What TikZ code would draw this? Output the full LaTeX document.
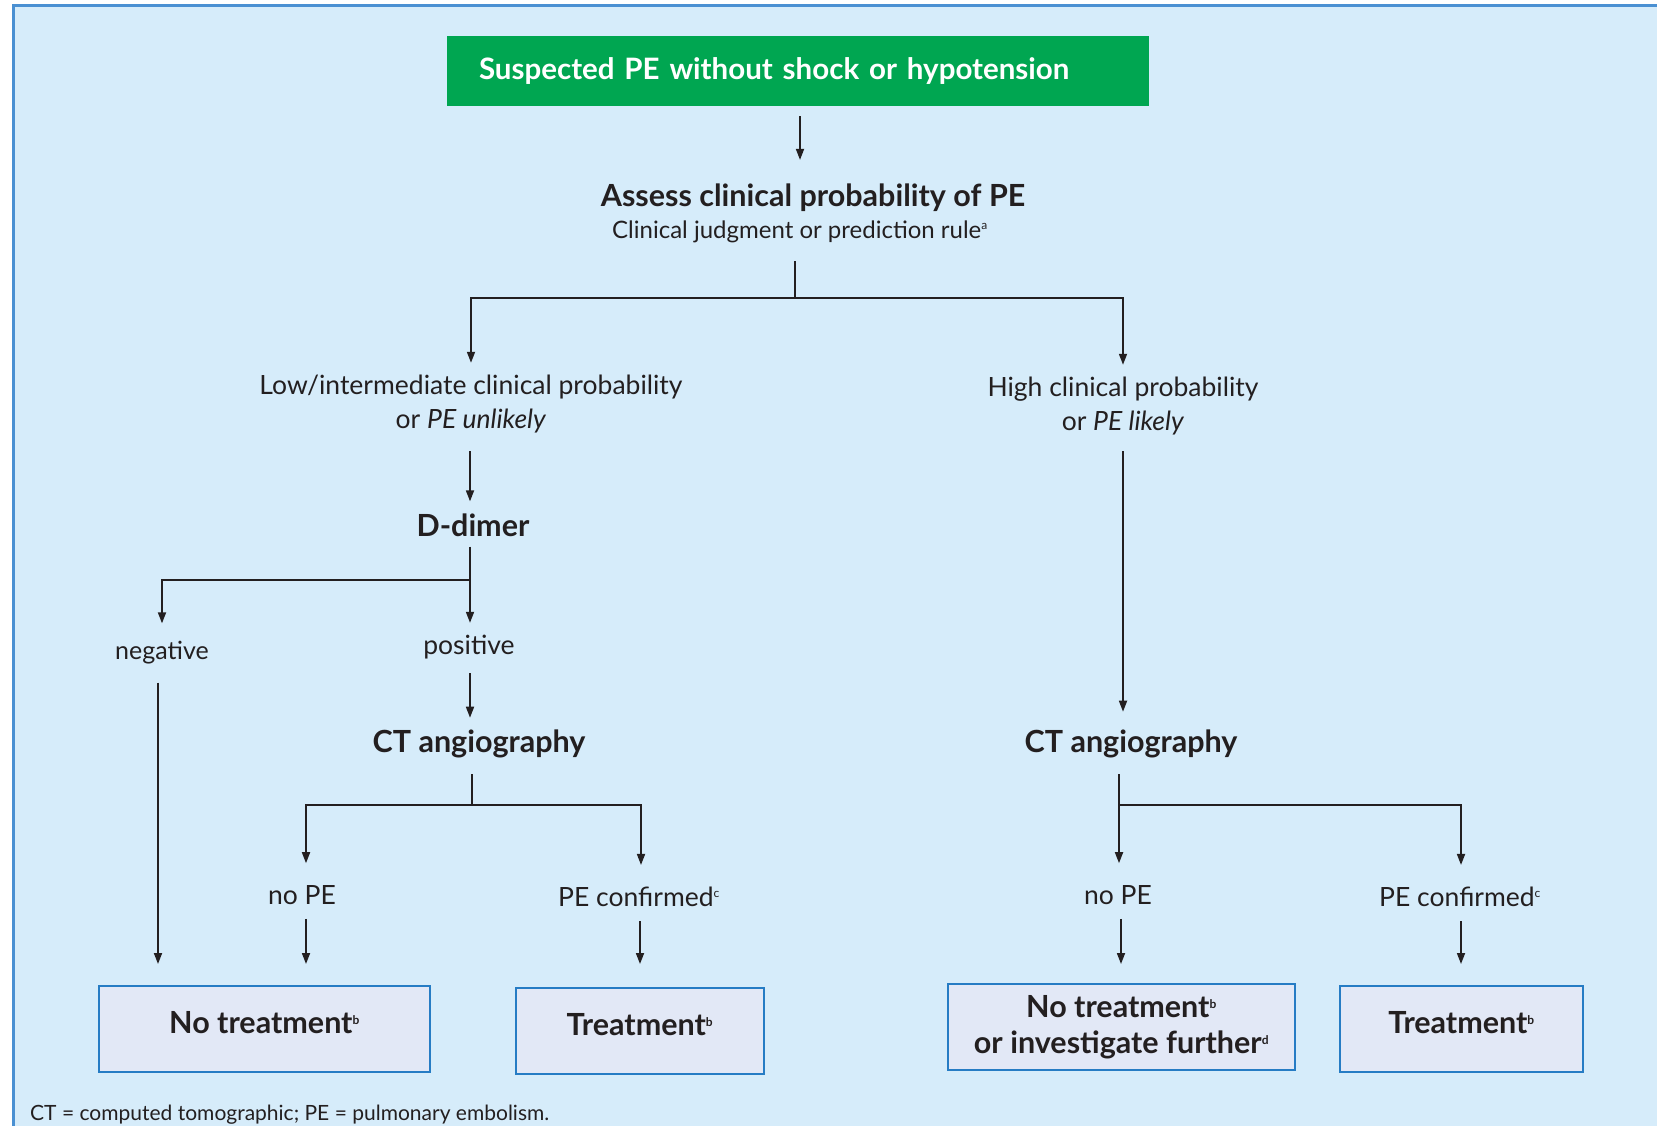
\documentclass[tikz,border=0pt]{standalone}
\usepackage{fontspec}
\setmainfont{Lato}
\usetikzlibrary{arrows.meta,calc}
\definecolor{bg}{RGB}{214,236,250}
\definecolor{frameblue}{RGB}{74,144,210}
\definecolor{pegreen}{RGB}{0,166,81}
\definecolor{boxfill}{RGB}{226,232,246}
\definecolor{boxline}{RGB}{38,124,196}
\definecolor{ink}{RGB}{35,31,32}
\newcommand{\supr}[1]{\textsuperscript{\fontsize{12}{12}\selectfont #1}}
\begin{document}
\begin{tikzpicture}[x=1pt,y=-1pt,
 lab/.style={font=\fontsize{26.5}{34}\selectfont, text=ink, align=center, inner sep=0pt},
 hd/.style={font=\fontsize{30.5}{34}\selectfont\bfseries, text=ink, inner sep=0pt},
 res/.style={draw=boxline, line width=2pt, fill=boxfill, font=\fontsize{30.5}{38}\selectfont\bfseries, text=ink, align=center, minimum height=86pt, inner sep=0pt},
 ln/.style={line width=1.7pt, draw=ink},
 arr/.style={ln, -{Triangle[length=11pt,width=8pt]}}]
\useasboundingbox (0,0) rectangle (1659,1126);
\fill[white] (0,0) rectangle (1659,1126);
\fill[bg] (12,5) rectangle (1657,1126);
\draw[frameblue, line width=3pt] (13,1126) -- (13,6) -- (1657,6);

% nodes
\node[fill=pegreen, text=white, font=\fontsize{29.5}{34}\selectfont\bfseries, text width=638pt, inner xsep=32pt, minimum height=70pt, align=left] (start) at (798,71) {Suspected PE without shock or hypotension};
\node[hd] (assess) at (813,198) {Assess clinical probability of PE};
\node[lab, font=\fontsize{24}{28}\selectfont] (assess2) at (800,232) {Clinical judgment or prediction rule\supr{a}};
\node[lab] (low) at (471,404) {Low/intermediate clinical probability\\or \textit{PE unlikely}};
\node[lab] (high) at (1123,406) {High clinical probability\\or \textit{PE likely}};
\node[hd] (ddimer) at (473,525) {D-dimer};
\node[lab, font=\fontsize{25}{34}\selectfont] (neg) at (162,653) {negative};
\node[lab] (pos) at (469,647) {positive};
\node[hd] (ct1) at (479,744) {CT angiography};
\node[hd] (ct2) at (1131,744) {CT angiography};
\node[lab] (nope1) at (302,895) {no PE};
\node[lab] (conf1) at (639,897) {PE confirmed\supr{c}};
\node[lab] (nope2) at (1118,895) {no PE};
\node[lab] (conf2) at (1460,897) {PE confirmed\supr{c}};
\node[res, minimum width=331pt, text depth=14pt] (box1) at (264.5,1029) {No treatment\supr{b}};
\node[res, minimum width=248pt, text depth=14pt] (box2) at (640,1031) {Treatment\supr{b}};
\node[res, minimum width=347pt] (box3) at (1121.5,1027) {No treatment\supr{b}\\[-2pt]or investigate further\supr{d}};
\node[res, minimum width=243pt, text depth=14pt] (box4) at (1461.5,1029) {Treatment\supr{b}};
\node[anchor=west, inner sep=0pt, text=ink, font=\fontsize{21}{22}\selectfont] (foot) at (30,1115) {CT = computed tomographic; PE = pulmonary embolism.};

% junctions
\coordinate (j1) at (795,298);
\coordinate (j2) at (470,580);
\coordinate (j3) at (472,805);
\coordinate (j4) at (1119,805);

% connectors
\draw[arr, shorten <=10pt, shorten >=24pt] (start.south -| 800,0) -- (assess.north -| 800,0);
\draw[ln, shorten <=18pt] (assess2.south -| j1) -- (j1);
\draw[arr, shorten >=12pt] (j1) -| (low.north);
\draw[arr, shorten >=12pt] (j1) -| (high.north);
\draw[arr, shorten <=18pt, shorten >=12pt] (low.south -| j2) -- (ddimer.north -| j2);
\draw[ln, shorten <=10pt] (ddimer.south -| j2) -- (j2);
\draw[arr, shorten >=18pt] (j2) -| (neg.north);
\draw[arr, shorten >=12pt] (j2) -- (pos.north -| j2);
\draw[arr, shorten <=14pt, shorten >=12pt] (pos.south -| j2) -- (ct1.north -| j2);
\draw[arr, shorten <=18pt, shorten >=21pt] (neg.south -| 158,0) -- (box1.north -| 158,0);
\draw[ln, shorten <=16pt] (ct1.south -| j3) -- (j3);
\draw[arr, shorten >=22pt] (j3) -| (nope1.north -| 306,0);
\draw[arr, shorten >=22pt] (j3) -| (conf1.north -| 641,0);
\draw[arr, shorten <=16pt, shorten >=18pt] (high.south -| 1123,0) -- (ct2.north -| 1123,0);
\draw[arr, shorten <=16pt, shorten >=22pt] (ct2.south -| j4) -- (nope2.north -| j4);
\draw[arr, shorten >=22pt] (j4) -| (conf2.north -| 1461,0);
\draw[arr, shorten <=14pt, shorten >=21pt] (nope1.south -| 306,0) -- (box1.north -| 306,0);
\draw[arr, shorten <=14pt, shorten >=23pt] (conf1.south -| 640,0) -- (box2.north -| 640,0);
\draw[arr, shorten <=14pt, shorten >=19pt] (nope2.south -| 1121,0) -- (box3.north -| 1121,0);
\draw[arr, shorten <=14pt, shorten >=21pt] (conf2.south -| 1461,0) -- (box4.north -| 1461,0);
\end{tikzpicture}
\end{document}
